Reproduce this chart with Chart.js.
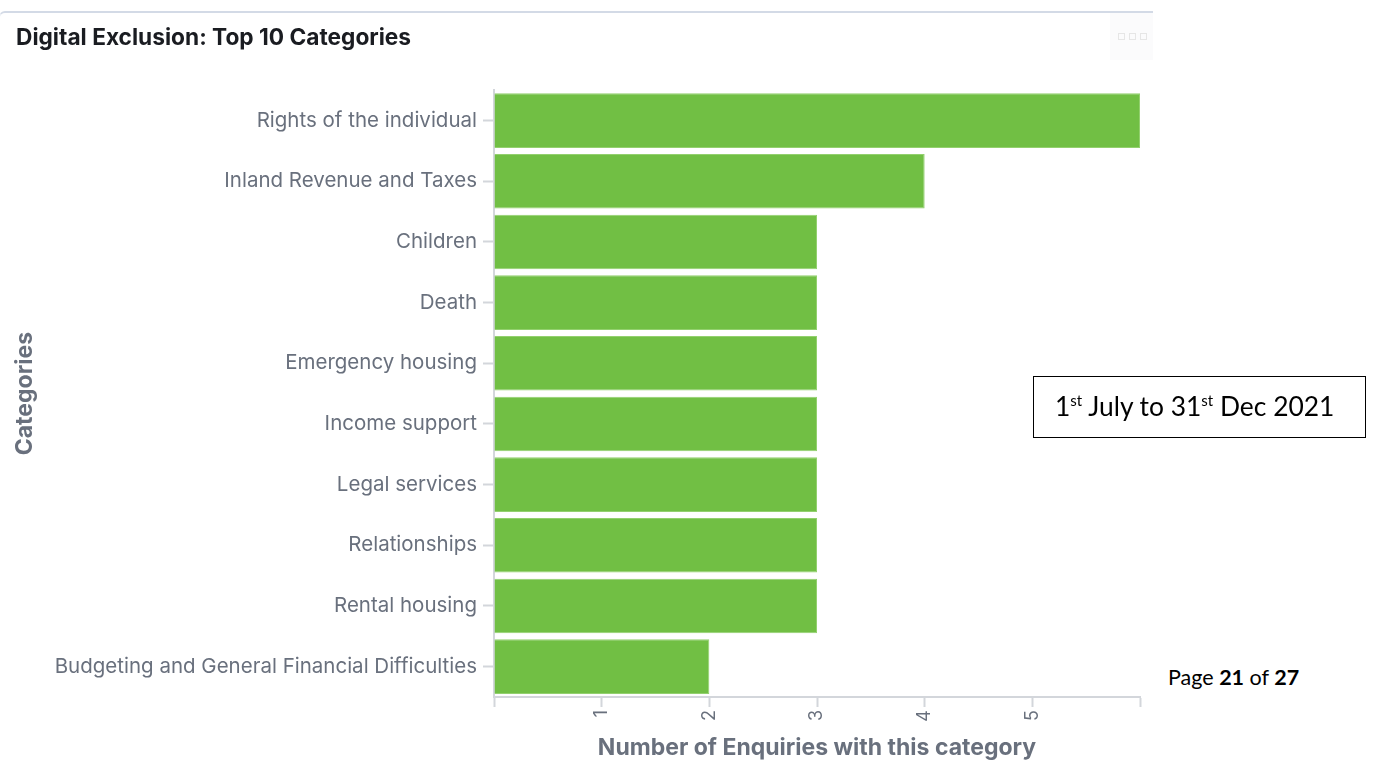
<!DOCTYPE html>
<html>
<head>
<meta charset="utf-8">
<script src="https://cdn.jsdelivr.net/npm/chart.js@4/dist/chart.umd.min.js"></script>
<style>
  html, body { margin: 0; padding: 0; background: #fff; }
  body { width: 1373px; height: 762px; position: relative; overflow: hidden; }
  #clip { position: absolute; left: 0; top: 0; width: 1153px; height: 762px; overflow: hidden; }
  #panel {
    position: absolute; left: -1px; top: 11px; width: 1200px; height: 800px;
    border: 1px solid #e3e8f0; border-top: 2px solid #d3dae6; border-radius: 6px;
    box-sizing: border-box;
  }
  #menu {
    position: absolute; left: 1110px; top: 13px; width: 50px; height: 47px;
    background: #fbfbfc;
  }
  #menu span {
    position: absolute; top: 20px; width: 5px; height: 5px; border: 1px solid #e6e6e6;
  }
  #chartBox { position: absolute; left: 0; top: 0; width: 1153px; height: 762px; }
  #period {
    position: absolute; left: 1033px; top: 376px; width: 333px; height: 62px;
    box-sizing: border-box; border: 1.5px solid #000;
    font-family: Lato, sans-serif; font-size: 26.4px; color: #000;
    padding-left: 21px; line-height: 58px;
  }
  #period sup { font-size: 15px; vertical-align: 10px; line-height: 0; }
  #pageNo {
    position: absolute; left: 1168px; top: 664px;
    font-family: Lato, sans-serif; font-size: 21.5px; color: #000;
  }
</style>
</head>
<body>
<div id="clip">
  <div id="panel"></div>
  <div id="menu"><span style="left:8px"></span><span style="left:19px"></span><span style="left:30px"></span></div>
  <div id="chartBox"><canvas id="myChart"></canvas></div>
</div>
<div id="period">1<sup>st</sup> July to 31<sup>st</sup> Dec 2021</div>
<div id="pageNo">Page <b>21</b> of <b>27</b></div>

<script>
const categories = [
  "Rights of the individual",
  "Inland Revenue and Taxes",
  "Children",
  "Death",
  "Emergency housing",
  "Income support",
  "Legal services",
  "Relationships",
  "Rental housing",
  "Budgeting and General Financial Difficulties"
];
const enquiryCounts = [6, 4, 3, 3, 3, 3, 3, 3, 3, 2];
const xTickLabels = ["1", "2", "3", "4", "5"];

const axisGrey = "#69707d";
const lineGrey = "#d3d6db";

Chart.defaults.font.family = "Inter, 'Noto Sans', sans-serif";
Chart.defaults.color = axisGrey;

const graphic = document.getElementById("myChart").getContext("2d");

const myChart = new Chart(graphic, {
  type: "bar",
  data: {
    labels: categories,
    datasets: [
      {
        label: "Number of Enquiries with this category",
        data: enquiryCounts,
        backgroundColor: "#71bf44",
        borderColor: "#93d06e",
        borderWidth: 1,
        barPercentage: 0.9,
        categoryPercentage: 1
      }
    ]
  },
  options: {
    indexAxis: "y",
    responsive: true,
    maintainAspectRatio: false,
    animation: false,
    layout: {
      padding: { left: 16, right: 13, top: 0, bottom: 0 }
    },
    plugins: {
      legend: { display: false },
      tooltip: { enabled: false },
      title: {
        display: true,
        text: "Digital Exclusion: Top 10 Categories",
        align: "start",
        color: "#1a1c21",
        font: { size: 22.7, weight: "bold" },
        padding: { top: 25, bottom: 38 }
      }
    },
    scales: {
      x: {
        type: "linear",
        min: 0,
        max: 6,
        afterFit: (scale) => {
          // rotated labels leave no overhang, so drop the side padding
          scale.height = 65;
          scale.paddingLeft = 0;
          scale.paddingRight = 0;
        },
        ticks: {
          stepSize: 1,
          autoSkip: false,
          minRotation: 90,
          maxRotation: 90,
          padding: 3,
          font: { size: 18 },
          callback: (value) => xTickLabels.includes(String(value)) ? String(value) : ""
        },
        grid: {
          drawOnChartArea: false,
          drawTicks: true,
          tickLength: 10,
          tickWidth: 2,
          tickColor: lineGrey
        },
        border: { display: true, color: lineGrey, width: 2 },
        title: {
          display: true,
          text: "Number of Enquiries with this category",
          color: axisGrey,
          font: { size: 23, weight: "bold" },
          padding: { top: 2, bottom: 0 }
        }
      },
      y: {
        afterFit: (scale) => { scale.width = 478; },
        ticks: {
          padding: 6,
          font: { size: 20.5 }
        },
        grid: {
          offset: false,
          drawOnChartArea: false,
          drawTicks: true,
          tickLength: 11,
          tickWidth: 2,
          tickColor: lineGrey
        },
        border: { display: true, color: lineGrey, width: 2 },
        title: {
          display: true,
          text: "Categories",
          color: axisGrey,
          font: { size: 23, weight: "bold" },
          padding: { top: -5, bottom: 0 }
        }
      }
    }
  }
});
</script>
</body>
</html>
